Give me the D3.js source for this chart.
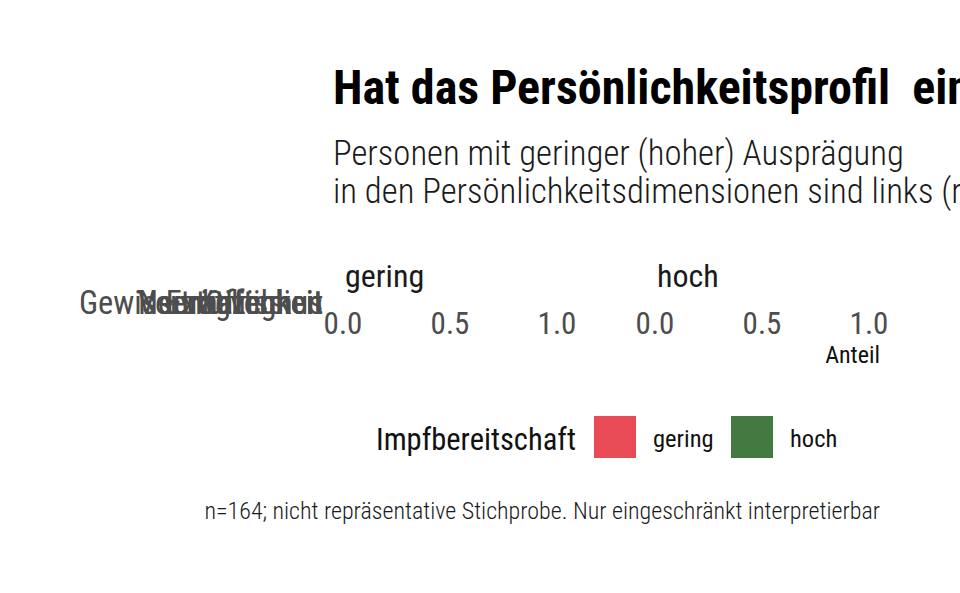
<!DOCTYPE html>
<html>
<head>
<meta charset="utf-8">
<script src="https://cdn.jsdelivr.net/npm/d3@7"></script>
<style>
  body { margin: 0; background: #fff; }
  text { font-family: "Roboto Condensed", "Liberation Sans Narrow", sans-serif; white-space: pre; }
</style>
</head>
<body>
<div id="container"></div>
<script>
// chart data
var dimensions = ["Gewissenhaftigkeit", "Extraversion", "Neurotizismus", "Verträglichkeit", "Offenheit"];
var facets = ["gering", "hoch"];
var xTicks = [0, 0.5, 1];
var groups = ["gering", "hoch"];
var groupColors = ["#E84A56", "#437A42"];

var title = "Hat das Persönlichkeitsprofil  einen Einfluss auf die Impfbereitschaft?";
var subtitle = ["Personen mit geringer (hoher) Ausprägung",
    "in den Persönlichkeitsdimensionen sind links (rechts) dargestellt"];
var caption = "n=164; nicht repräsentative Stichprobe. Nur eingeschränkt interpretierbar";

var width = 960, height = 593;

const svg = d3.select("div#container").append("svg")
    .attr("width", width)
    .attr("height", height)
    .style("display", "block");

svg.append("text")
    .attr("x", 333).attr("y", 104)
    .attr("font-size", 48).attr("font-weight", "bold").attr("fill", "#000")
    .text(title);

svg.append("g").selectAll("text")
    .data(subtitle)
    .join("text")
    .attr("x", 333)
    .attr("y", (d, i) => 165 + i * 38)
    .attr("font-size", 34.7).attr("font-weight", 300).attr("fill", "#1a1a1a")
    .text(d => d);

// facet panels (the panel height is collapsed to zero in the original)
var y = d3.scaleBand().domain(dimensions).range([303, 303]);

facets.forEach(function (f, i) {
    var x0 = 343 + i * 312;
    var x = d3.scaleLinear().domain([0, 1]).range([x0, x0 + 214]);

    svg.append("text")
        .attr("x", x0 + 2).attr("y", 287)
        .attr("font-size", 32).attr("fill", "#1a1a1a")
        .text(f);

    svg.append("g")
        .selectAll("text")
        .data(xTicks)
        .join("text")
        .attr("x", d => x(d))
        .attr("y", 334)
        .attr("text-anchor", "middle")
        .attr("font-size", 31).attr("fill", "#4d4d4d")
        .text(d => d3.format(".1f")(d));
});

// y labels, all stacked on the collapsed band
svg.append("g")
    .selectAll("text")
    .data(dimensions)
    .join("text")
    .attr("x", 323)
    .attr("y", d => y(d) + 11)
    .attr("text-anchor", "end")
    .attr("font-size", 32.4).attr("fill", "#4d4d4d")
    .text(d => d);

svg.append("text")
    .attr("x", 880).attr("y", 363)
    .attr("text-anchor", "end")
    .attr("font-size", 24).attr("fill", "#111")
    .text("Anteil");

// legend
const legend = svg.append("g");
legend.append("text")
    .attr("x", 376).attr("y", 450)
    .attr("font-size", 30.5).attr("fill", "#111")
    .text("Impfbereitschaft");

var keyX = d3.scaleOrdinal().domain(groups).range([594, 731]);
var color = d3.scaleOrdinal().domain(groups).range(groupColors);

legend.selectAll("rect")
    .data(groups)
    .join("rect")
    .attr("x", d => keyX(d)).attr("y", 416)
    .attr("width", 42).attr("height", 42)
    .attr("fill", d => color(d));

legend.selectAll("text.lab")
    .data(groups)
    .join("text")
    .attr("class", "lab")
    .attr("x", d => keyX(d) + 59).attr("y", 447)
    .attr("font-size", 24.5).attr("fill", "#111")
    .text(d => d);

svg.append("text")
    .attr("x", 880).attr("y", 519)
    .attr("text-anchor", "end")
    .attr("font-size", 24).attr("font-weight", 300).attr("fill", "#1a1a1a")
    .text(caption);
</script>
</body>
</html>
